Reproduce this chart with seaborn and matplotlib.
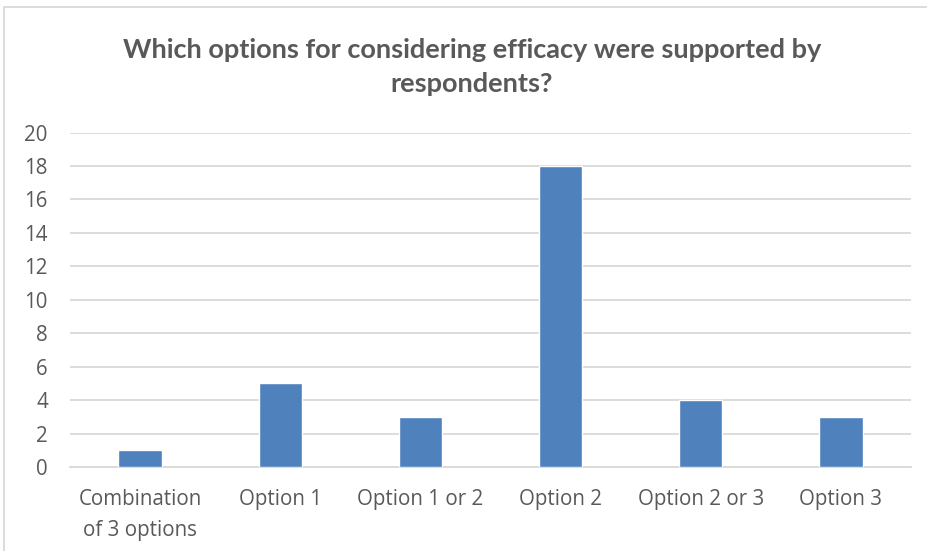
import matplotlib
matplotlib.use("Agg")
import matplotlib.pyplot as plt
import seaborn as sns
import pandas as pd
from matplotlib.patches import Rectangle

categories = ["Combination\nof 3 options", "Option 1", "Option 1 or 2",
              "Option 2", "Option 2 or 3", "Option 3"]
counts = [1, 5, 3, 18, 4, 3]
y_ticks = [0, 2, 4, 6, 8, 10, 12, 14, 16, 18, 20]
title = "Which options for considering efficacy were supported by\nrespondents?"

sns.set_theme(style="white")
plt.rcParams["font.family"] = ["Open Sans", "DejaVu Sans"]

text_color = "#595959"
grid_color = "#D9D9D9"
bar_color = "#4F81BD"

df = pd.DataFrame({"category": categories, "count": counts})

W, H = 928, 551
fig = plt.figure(figsize=(W / 100, H / 100), dpi=100)
ax = fig.add_axes([70 / W, 1 - 467 / H, (911 - 70) / W, (467 - 132.6) / H])

sns.barplot(data=df, x="category", y="count", color=bar_color,
            width=0.31, saturation=1, ax=ax, zorder=3)

ax.set_xlim(-0.5, len(categories) - 0.5)
ax.set_ylim(0, 20)
ax.set_yticks(y_ticks)
ax.set_yticklabels([str(v) for v in y_ticks])
ax.yaxis.grid(True, color=grid_color, linewidth=1.3, zorder=0)
ax.set_axisbelow(True)
for s in ["top", "right", "left"]:
    ax.spines[s].set_visible(False)
ax.spines["bottom"].set_color(grid_color)
ax.spines["bottom"].set_linewidth(1.3)
ax.set_xlabel("")
ax.set_ylabel("")
ax.tick_params(axis="both", length=0, labelsize=14.8, colors=text_color)
ax.tick_params(axis="x", pad=16)
ax.tick_params(axis="y", pad=16)
for lbl in ax.get_xticklabels():
    lbl.set_linespacing(1.62)
for lbl in ax.get_yticklabels():
    lbl.set_horizontalalignment("right")

fig.text(472 / W, 1 - 67 / H, title, ha="center", va="center",
         fontsize=19.5, fontweight="bold", color=text_color,
         family=["Lato", "DejaVu Sans"], linespacing=1.45)

fig.patches.append(Rectangle((4 / W, -0.1), 1.1, 1 - 7 / H + 0.1,
                             transform=fig.transFigure, fill=False,
                             edgecolor=grid_color, linewidth=1.3))

fig.savefig("out.png", dpi=100, facecolor="white")
